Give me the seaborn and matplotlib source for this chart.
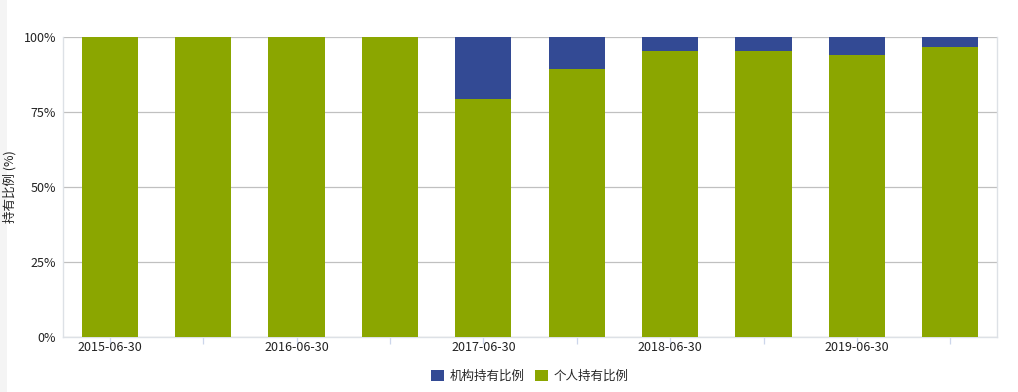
import matplotlib
matplotlib.use("Agg")
import matplotlib.pyplot as plt
from matplotlib.patches import Patch, Rectangle
import seaborn as sns
import pandas as pd

dates = ["2015-06-30", "2015-12-31", "2016-06-30", "2016-12-31", "2017-06-30",
         "2017-12-31", "2018-06-30", "2018-12-31", "2019-06-30", "2019-12-31"]
individual = [100, 100, 100, 100, 79.4, 89.3, 95.2, 95.5, 94.1, 96.8]
institution = [0, 0, 0, 0, 20.6, 10.7, 4.8, 4.5, 5.9, 3.2]
tick_labels = ["2015-06-30", "", "2016-06-30", "", "2017-06-30", "",
               "2018-06-30", "", "2019-06-30", ""]

BLUE = "#334a94"
GREEN = "#8ba600"

sns.set_theme(style="white")
plt.rcParams["font.family"] = ["Noto Sans CJK SC", "DejaVu Sans"]

df = pd.DataFrame({"date": dates, "individual": individual, "institution": institution})
df["total"] = df["individual"] + df["institution"]

fig = plt.figure(figsize=(10.18, 3.92), dpi=100)
fig.patches.append(Rectangle((0, 0), 7 / 1018, 1, transform=fig.transFigure,
                             facecolor="#f4f4f4", edgecolor="none", zorder=-10))
ax = fig.add_axes([63 / 1018, 1 - 337 / 392, (997 - 63) / 1018, 300 / 392])

sns.barplot(data=df, x="date", y="total", color=BLUE, width=0.6, ax=ax,
            saturation=1, edgecolor="none", zorder=3)
sns.barplot(data=df, x="date", y="individual", color=GREEN, width=0.6, ax=ax,
            saturation=1, edgecolor="none", zorder=4)

ax.set_xlim(-0.5, 9.5)
ax.set_ylim(0, 100)
ax.set_yticks([0, 25, 50, 75, 100])
ax.set_yticklabels(["0%", "25%", "50%", "75%", "100%"])
ax.set_xticks(range(len(dates)))
ax.set_xticklabels(tick_labels)
ax.yaxis.grid(True, color="#c0c0c0", linewidth=0.9, zorder=1)
ax.set_axisbelow(True)
ax.tick_params(axis="y", length=0, labelsize=9, pad=5, labelcolor="#222222")
ax.tick_params(axis="x", length=5, width=0.9, color="#ccd6eb", labelsize=9,
               pad=-2, labelcolor="#222222", direction="out", bottom=True)
for s in ["left", "bottom", "right"]:
    ax.spines[s].set_color("#dde1e6")
    ax.spines[s].set_linewidth(1.0)
ax.spines["top"].set_visible(False)
ax.set_xlabel("")
ax.set_ylabel("持有比例 (%)", fontsize=9, color="#222222")
ax.yaxis.set_label_coords((17 - 63) / 934, 0.5)

handles = [Patch(facecolor=BLUE, edgecolor="none", label="机构持有比例"),
           Patch(facecolor=GREEN, edgecolor="none", label="个人持有比例")]
fig.legend(handles=handles, loc="center", bbox_to_anchor=(530 / 1018, 1 - 376 / 392),
           ncol=2, frameon=False, fontsize=9, handlelength=1.0, handleheight=1.0,
           handletextpad=0.5, columnspacing=0.8)

fig.savefig("out.png", dpi=100)
